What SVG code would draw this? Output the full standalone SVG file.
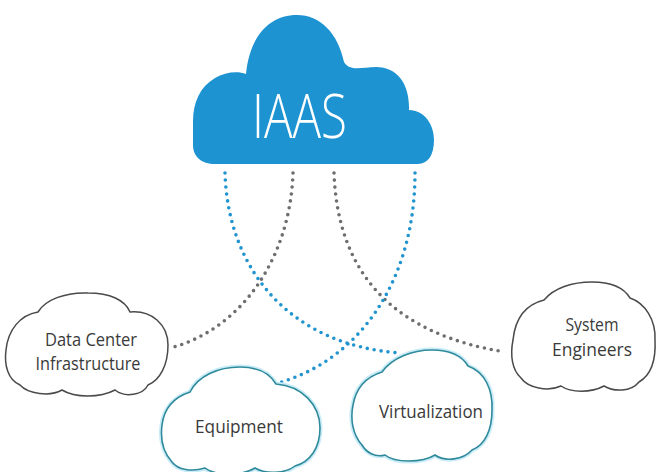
<svg xmlns="http://www.w3.org/2000/svg" width="661" height="472" viewBox="0 0 661 472">
<style>
.dot-gray{fill:none;stroke:#6e6e6e;stroke-width:3.6;stroke-linecap:round;stroke-dasharray:0 7}
.dot-blue{fill:none;stroke:#1f94cf;stroke-width:3.6;stroke-linecap:round;stroke-dasharray:0 7}
.cloud-gray{fill:#ffffff;stroke:#4a4a4a;stroke-width:1.5}
.halo{fill:none;stroke:#c9ecf7;stroke-width:5}
.cloud-teal{fill:#ffffff;stroke:#2f8a9c;stroke-width:1.6}
.lbl{font-family:"Open Sans","Liberation Sans",sans-serif;font-size:19px;fill:#3a3a3a;text-anchor:middle}
</style>
<rect width="661" height="472" fill="#ffffff"/>
<g id="connectors">
<path class="dot-gray" d="M293,173 C290,260 240,330 170,348"/>
<path class="dot-gray" d="M334,173 C338,280 400,335 505,352"/>
<path class="dot-blue" d="M225,173 C228,270 290,345 400,353"/>
<path class="dot-blue" d="M415,173 C415,280 360,360 278,383"/>
</g>
<g id="iaas">
<path fill="#1d93d2" d="M215,164 L418,164 C428,164 434,155 434,140 C434,124 424,110 409,110 C410,85 398,67 376,67 C362,67 350,72 344,62 C338,33 320,15 297,15 C270,15 250,35 246,74 C238,71 225,72 215,78 C200,87 193,102 193,122 L193,145 C193,157 202,164 215,164 Z"/>
<text x="252" y="138" textLength="95" lengthAdjust="spacingAndGlyphs" font-family="'Open Sans','Liberation Sans',sans-serif" font-size="60" font-weight="300" fill="#ffffff">IAAS</text>
</g>
<g id="datacenter">
<path class="cloud-gray" d="M20,385 C8,380 4,365 6,350 C8,330 20,315 38,312 C45,300 65,292 88,293 C110,293 125,300 130,312 C152,310 168,325 168,345 C168,365 160,380 148,385 C143,395 125,398 115,390 C100,398 75,398 62,390 C50,397 28,394 20,385 Z"/>
<text class="lbl" x="91" y="346" textLength="92" lengthAdjust="spacingAndGlyphs">Data Center</text>
<text class="lbl" x="88" y="370" textLength="105" lengthAdjust="spacingAndGlyphs">Infrastructure</text>
</g>
<g id="systemengineers">
<path class="cloud-gray" d="M521,378 C512,370 510,355 513,340 C515,320 524,305 544,300 C554,288 572,282 592,282 C612,282 624,288 630,298 C645,303 656,320 655,340 C656,360 651,375 639,382 C631,392 614,392 604,386 C591,393 571,393 561,386 C548,392 528,388 521,378 Z"/>
<text class="lbl" x="592" y="331" textLength="53" lengthAdjust="spacingAndGlyphs">System</text>
<text class="lbl" x="592" y="356" textLength="80" lengthAdjust="spacingAndGlyphs">Engineers</text>
</g>
<g id="equipment">
<path class="halo" d="M172,462 C163,452 160,440 162,425 C164,408 175,397 190,392 C198,376 218,367 240,367 C258,367 270,374 276,384 C302,386 320,405 320,428 C320,448 310,462 295,466 C285,474 265,474 255,468 C242,476 215,476 205,468 C192,472 178,470 172,462 Z"/>
<path class="cloud-teal" d="M172,462 C163,452 160,440 162,425 C164,408 175,397 190,392 C198,376 218,367 240,367 C258,367 270,374 276,384 C302,386 320,405 320,428 C320,448 310,462 295,466 C285,474 265,474 255,468 C242,476 215,476 205,468 C192,472 178,470 172,462 Z"/>
<text class="lbl" x="239" y="433" textLength="88" lengthAdjust="spacingAndGlyphs">Equipment</text>
</g>
<g id="virtualization">
<path class="halo" d="M362,445 C353,435 350,420 353,405 C356,388 366,377 382,372 C392,358 412,350 432,350 C450,350 462,356 468,366 C485,372 493,390 492,410 C492,430 485,445 472,450 C463,460 445,462 435,455 C422,463 395,463 385,455 C375,458 366,452 362,445 Z"/>
<path class="cloud-teal" d="M362,445 C353,435 350,420 353,405 C356,388 366,377 382,372 C392,358 412,350 432,350 C450,350 462,356 468,366 C485,372 493,390 492,410 C492,430 485,445 472,450 C463,460 445,462 435,455 C422,463 395,463 385,455 C375,458 366,452 362,445 Z"/>
<text class="lbl" x="431" y="418" textLength="104" lengthAdjust="spacingAndGlyphs">Virtualization</text>
</g>
</svg>
